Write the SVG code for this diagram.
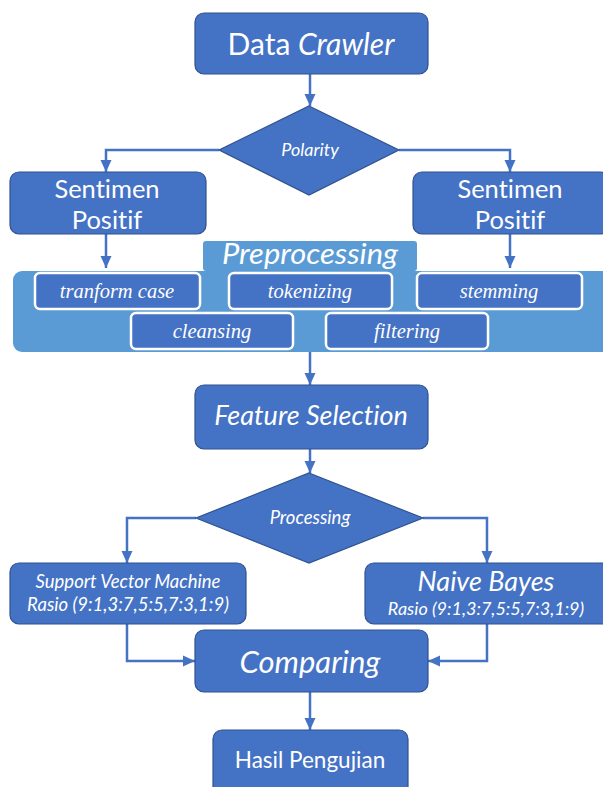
<svg xmlns="http://www.w3.org/2000/svg" width="603" height="787" viewBox="0 0 603 787">
<style>
.n{fill:#4472C4;stroke:#2F528F;stroke-width:1.2}
.lt{fill:#5B9BD5;stroke:none}
.in{fill:#4472C4;stroke:#fff;stroke-width:2.5}
.t{fill:#fff;font-family:Lato,"Open Sans",sans-serif;text-anchor:middle;font-variant-ligatures:none;font-feature-settings:"liga" 0}
.i{font-style:italic}
.s{fill:#fff;font-family:"Liberation Serif","Times New Roman",serif;font-style:italic;font-size:20.5px;text-anchor:middle}
.c{fill:none;stroke:#4472C4;stroke-width:2.5}
</style>
<defs>
<marker id="ah" markerUnits="userSpaceOnUse" markerWidth="12" markerHeight="12" viewBox="0 0 12 12" refX="12" refY="6" orient="auto">
<path d="M0,0.5 L12,6 L0,11.5 Z" fill="#4472C4"/>
</marker>
</defs>
<g id="connectors">
<path class="c" d="M310,74 V106" marker-end="url(#ah)"/>
<path class="c" d="M219,150 H106 V172" marker-end="url(#ah)"/>
<path class="c" d="M399,150 H510 V172" marker-end="url(#ah)"/>
<path class="c" d="M106,234 V268" marker-end="url(#ah)"/>
<path class="c" d="M510,234 V268" marker-end="url(#ah)"/>
<path class="c" d="M310,352 V385" marker-end="url(#ah)"/>
<path class="c" d="M310,449 V473" marker-end="url(#ah)"/>
<path class="c" d="M196,518 H127 V563" marker-end="url(#ah)"/>
<path class="c" d="M423,518 H487 V563" marker-end="url(#ah)"/>
<path class="c" d="M127,624 V661 H195" marker-end="url(#ah)"/>
<path class="c" d="M487,624 V661 H428" marker-end="url(#ah)"/>
<path class="c" d="M310,692 V730" marker-end="url(#ah)"/>
</g>
<g id="data-crawler">
<rect class="n" x="195" y="13" width="233" height="61" rx="9"/>
<text class="t" x="311" y="55" font-size="30">Data <tspan class="i">Crawler</tspan></text>
</g>
<g id="polarity">
<path class="n" d="M309,106 L399,150 L309,195 L219,150 Z"/>
<text class="t i" x="310" y="156" font-size="18">Polarity</text>
</g>
<g id="sentimen-left">
<rect class="n" x="10" y="172" width="196" height="62" rx="9"/>
<text class="t" x="107" y="198" font-size="25.5">Sentimen</text>
<text class="t" x="107" y="229" font-size="25.5">Positif</text>
</g>
<g id="sentimen-right">
<rect class="n" x="413" y="172" width="196" height="62" rx="9"/>
<text class="t" x="510" y="198" font-size="25.5">Sentimen</text>
<text class="t" x="510" y="229" font-size="25.5">Positif</text>
</g>
<g id="preprocessing">
<rect class="lt" x="13" y="271" width="600" height="81" rx="9"/>
<rect class="lt" x="203" y="241" width="214" height="30" rx="3"/>
<text class="t i" x="310" y="264" font-size="29" textLength="176" lengthAdjust="spacingAndGlyphs">Preprocessing</text>
</g>
<g id="tranform-case">
<rect class="in" x="35" y="273" width="165" height="36" rx="5"/>
<text class="s" x="117" y="298">tranform case</text>
</g>
<g id="tokenizing">
<rect class="in" x="229" y="273" width="163" height="36" rx="5"/>
<text class="s" x="310" y="298">tokenizing</text>
</g>
<g id="stemming">
<rect class="in" x="417" y="273" width="165" height="36" rx="5"/>
<text class="s" x="499" y="298">stemming</text>
</g>
<g id="cleansing">
<rect class="in" x="131" y="313" width="162" height="36" rx="5"/>
<text class="s" x="212" y="338">cleansing</text>
</g>
<g id="filtering">
<rect class="in" x="326" y="313" width="162" height="36" rx="5"/>
<text class="s" x="407" y="338">filtering</text>
</g>
<g id="feature-selection">
<rect class="n" x="195" y="385" width="233" height="64" rx="9"/>
<text class="t i" x="311" y="425" font-size="27">Feature Selection</text>
</g>
<g id="processing">
<path class="n" d="M309,473 L423,518 L309,563 L196,518 Z"/>
<text class="t i" x="310" y="524" font-size="18.5">Processing</text>
</g>
<g id="svm">
<rect class="n" x="10" y="563" width="236" height="61" rx="9"/>
<text class="t i" x="128" y="588" font-size="18.5">Support Vector Machine</text>
<text class="t i" x="128" y="611" font-size="18.5">Rasio (9:1,3:7,5:5,7:3,1:9)</text>
</g>
<g id="naive-bayes">
<rect class="n" x="365" y="563" width="246" height="61" rx="9"/>
<text class="t i" x="486" y="591" font-size="27">Naive Bayes</text>
<text class="t i" x="486" y="615" font-size="18">Rasio (9:1,3:7,5:5,7:3,1:9)</text>
</g>
<g id="comparing">
<rect class="n" x="195" y="630" width="233" height="62" rx="9"/>
<text class="t i" x="310" y="673" font-size="31">Comparing</text>
</g>
<g id="hasil-pengujian">
<rect class="n" x="213" y="730" width="195" height="70" rx="9"/>
<text class="t" x="310" y="768" font-size="22.5">Hasil Pengujian</text>
</g>
</svg>
